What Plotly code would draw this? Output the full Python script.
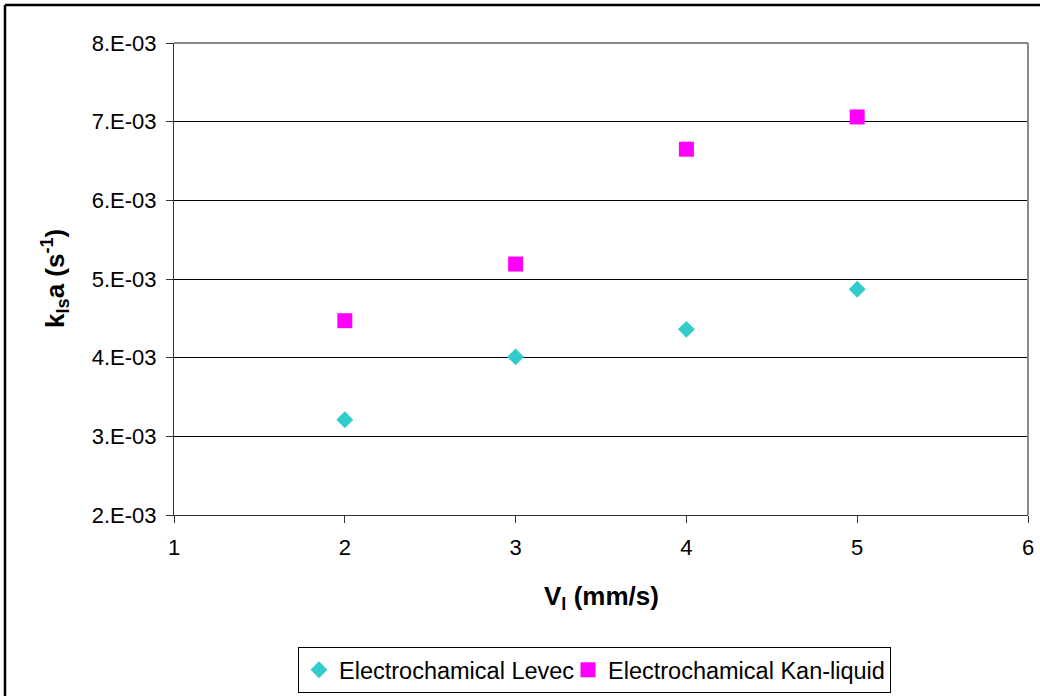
import plotly.graph_objects as go

# Liquid velocity (mm/s)
velocity = [2, 3, 4, 5]

# Volumetric mass-transfer coefficient k_ls*a (1/s)
kla_levec = [3.21e-3, 4.01e-3, 4.36e-3, 4.87e-3]
kla_kan = [4.47e-3, 5.19e-3, 6.65e-3, 7.06e-3]

series_names = ["Electrochamical Levec", "Electrochamical Kan-liquid"]

y_tick_vals = [2e-3, 3e-3, 4e-3, 5e-3, 6e-3, 7e-3, 8e-3]
y_tick_text = ["2.E-03", "3.E-03", "4.E-03", "5.E-03", "6.E-03", "7.E-03", "8.E-03"]
x_tick_vals = [1, 2, 3, 4, 5, 6]

FONT = "Liberation Sans, Arial, sans-serif"

fig = go.Figure()
fig.add_trace(go.Scatter(
    x=velocity, y=kla_levec, mode="markers", name=series_names[0],
    marker=dict(symbol="diamond", size=13, color="#33CCCC", line=dict(width=0)),
    legendwidth=224,
))
fig.add_trace(go.Scatter(
    x=velocity, y=kla_kan, mode="markers", name=series_names[1],
    marker=dict(symbol="square", size=15, color="#FF00FF", line=dict(width=0)),
    legendwidth=277,
))

fig.update_layout(
    width=1040, height=696,
    margin=dict(l=174, r=12, t=43, b=181, autoexpand=False),
    paper_bgcolor="white", plot_bgcolor="white",
    font=dict(family=FONT, color="black", size=22),
    showlegend=True,
    legend=dict(
        orientation="h", x=(298 - 174) / 854, y=(515 - 647) / 472,
        xanchor="left", yanchor="top",
        bordercolor="black", borderwidth=1, bgcolor="white",
        font=dict(family=FONT, size=23.5, color="black"),
        itemwidth=30, tracegroupgap=0,
    ),
    xaxis=dict(
        range=[1, 6], tickvals=x_tick_vals, showgrid=False, zeroline=False,
        showline=True, linecolor="#333333", linewidth=1,
        ticks="outside", ticklen=7, tickcolor="#333333",
        tickfont=dict(family=FONT, size=22, color="black"),
        ticklabelstandoff=6, automargin=False,
    ),
    yaxis=dict(
        range=[2e-3, 8e-3], tickvals=y_tick_vals, ticktext=y_tick_text,
        showgrid=True, gridcolor="black", gridwidth=1, zeroline=False,
        showline=True, linecolor="#333333", linewidth=1,
        ticks="outside", ticklen=7, tickcolor="#333333",
        tickfont=dict(family=FONT, size=22, color="black"),
        ticklabelstandoff=5, automargin=False,
    ),
    annotations=[
        dict(text="<b>V<sub>l</sub> (mm/s)</b>", xref="paper", yref="paper",
             x=0.5, y=(515 - 597) / 472, xanchor="center", yanchor="middle",
             showarrow=False, font=dict(family=FONT, size=26, color="black")),
        dict(text="<b>k<sub>ls</sub>a (s<sup>-1</sup>)</b>", xref="paper", yref="paper",
             x=(55 - 174) / 854, y=0.5, xanchor="center", yanchor="middle", textangle=-90,
             showarrow=False, font=dict(family=FONT, size=26, color="black")),
    ],
    shapes=[
        # grey plot-area frame (top and right edges)
        dict(type="line", xref="paper", yref="paper", x0=0, x1=1, y0=1, y1=1,
             line=dict(color="#888888", width=2)),
        dict(type="line", xref="paper", yref="paper", x0=1, x1=1, y0=0, y1=1,
             line=dict(color="#888888", width=2)),
        # black chart-area border (top and left edges)
        dict(type="line", xref="paper", yref="paper", x0=-0.1979, x1=1.2, y0=1.0805, y1=1.0805,
             line=dict(color="black", width=2.5)),
        dict(type="line", xref="paper", yref="paper", x0=-0.1979, x1=-0.1979, y0=-0.5, y1=1.0805,
             line=dict(color="black", width=2.5)),
    ],
)

fig.write_html("out.html")
